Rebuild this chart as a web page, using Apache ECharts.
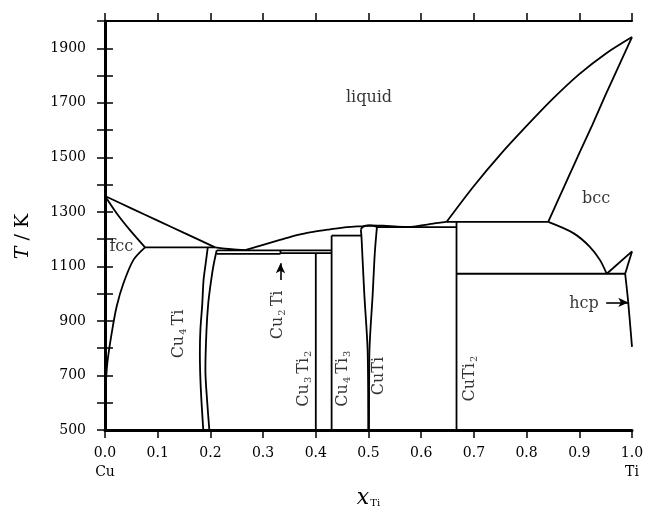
<!DOCTYPE html>
<html><head><meta charset="utf-8">
<script src="https://cdn.jsdelivr.net/npm/echarts/dist/echarts.min.js"></script>
<style>html,body{margin:0;padding:0;background:#fff}#c{width:645px;height:514px}</style>
</head><body><div id="c"></div>
<script>
// ---------- data (x_Ti, T/K) ----------
const cuLiquidus = [[0,1358],[0.05,1313],[0.10,1268],[0.15,1223],[0.209,1170]];
const fccSolidus = [[0,1358],[0.022,1295],[0.047,1234],[0.076,1170]];
const fccSolvus = [[0.076,1170],[0.054,1124],[0.035,1038],[0.022,952],[0.0127,855],[0.0044,745],[0.001,647],[0,570]];
const fccPeritectic = [[0.076,1170],[0.209,1170]];
const cu4TiLeft = [[0.195,1170],[0.191,1110],[0.187,1050],[0.1845,960],[0.181,867],[0.180,782],[0.1816,659],[0.1865,500]];
const cu4TiRight = [[0.212,1159],[0.206,1105],[0.2015,1050],[0.196,966],[0.1926,867],[0.1905,720],[0.1941,599],[0.198,500]];
const eutecticCu2Ti = [[0.212,1159],[0.430,1159]];
const eutectoidCu2Ti = [[0.212,1146],[0.333,1146]];
const peritectoidCu3Ti2 = [[0.333,1149],[0.430,1149]];
const cu2TiLine = [[0.333,1146],[0.333,1159]];
const cu3Ti2Line = [[0.400,1149],[0.400,500]];
const cu4Ti3Line = [[0.430,1213],[0.430,500]];
const cu4Ti3Top = [[0.430,1213],[0.4865,1213]];
const liquidusCuSide = [[0.209,1170],[0.24,1163],[0.266,1160]];
const liquidusMid = [[0.266,1160],[0.300,1179],[0.332,1197],[0.364,1215],[0.395,1227],[0.427,1236],[0.459,1244],[0.490,1248],[0.503,1250]];
const liquidusCuTi = [[0.503,1250],[0.528,1249],[0.555,1246],[0.579,1245],[0.600,1250],[0.623,1257],[0.648,1263]];
const liquidusTi = [[0.648,1263],[0.70,1395],[0.75,1510],[0.80,1615],[0.85,1715],[0.90,1805],[0.95,1880],[1,1941]];
const cuTiLeft = [[0.4855,1236],[0.4865,1213],[0.487,1197],[0.492,1000],[0.4985,782],[0.4995,500]];
const cuTiTop = [[0.4855,1236],[0.490,1246],[0.500,1250],[0.510,1249],[0.516,1244]];
const cuTiRight = [[0.516,1244],[0.512,1150],[0.508,1000],[0.5015,769],[0.501,500]];
const eutecticCuTi = [[0.516,1244],[0.667,1244]];
const cuTi2Line = [[0.667,1263],[0.667,500]];
const peritecticCuTi2 = [[0.648,1263],[0.841,1263]];
const bccSolidus = [[0.841,1263],[0.86,1345],[0.88,1430],[0.90,1515],[0.925,1620],[0.95,1730],[0.975,1835],[1,1941]];
const bccTransus = [[0.841,1263],[0.8887,1222],[0.920,1172],[0.939,1124],[0.952,1073]];
const eutectoidTi = [[0.667,1073],[0.987,1073]];
const bccHcpBoundary = [[0.952,1073],[1,1155]];
const hcpUpper = [[0.987,1073],[1,1155]];
const hcpSolvus = [[0.987,1073],[0.9924,977],[1,805]];

const boundaries = [cuLiquidus, fccSolidus, fccSolvus, fccPeritectic, cu4TiLeft, cu4TiRight,
  eutecticCu2Ti, eutectoidCu2Ti, peritectoidCu3Ti2, cu2TiLine, cu3Ti2Line, cu4Ti3Line, cu4Ti3Top,
  liquidusCuSide, liquidusMid, liquidusCuTi, liquidusTi, cuTiLeft, cuTiTop, cuTiRight, eutecticCuTi,
  cuTi2Line, peritecticCuTi2, bccSolidus, bccTransus, eutectoidTi, bccHcpBoundary, hcpUpper, hcpSolvus];

// phase labels
const labelText = ['liquid', 'fcc', 'Cu{s|4}Ti', 'Cu{s|2}Ti', 'Cu{s|3}Ti{s|2}', 'Cu{s|4}Ti{s|3}', 'CuTi', 'CuTi{s|2}', 'bcc', 'hcp'];
const labelX =    [0.501, 0.031, 0.140, 0.328, 0.378, 0.452, 0.520, 0.693, 0.932, 0.909];
const labelT =    [1718, 1170, 852, 922, 694, 694, 698, 694, 1347, 963];
const labelRot =  [0, 0, 90, 90, 90, 90, 90, 90, 0, 0];

// arrows: [start, end]
const arrowCu2Ti = [[0.333,1050],[0.333,1112]];
const arrowHcp = [[0.951,968],[0.993,968]];

// axis ticks
const xMin = 0, xMax = 1, xStep = 0.1;
const yMin = 500, yMax = 2000, yStep = 100, yLabelStep = 200;
const xEndNames = {0: 'Cu', 1: 'Ti'};

// ---------- chart ----------
const FONT = '"DejaVu Serif", "Liberation Serif", serif';
const TICK_FS = 14;
const chart = echarts.init(document.getElementById('c'), null, {renderer: 'canvas'});

const series = boundaries.map(d => ({
  type: 'line', data: d, showSymbol: false, symbol: 'none',
  smooth: d.length > 2 ? 0.3 : false,
  lineStyle: {color: '#000', width: 1.8}, silent: true, z: 3, clip: true
}));

[arrowCu2Ti, arrowHcp].forEach(a => {
  series.push({
    type: 'line', data: [], silent: true,
    markLine: {
      silent: true, symbol: ['none', 'arrow'], symbolSize: [7, 10],
      label: {show: false},
      lineStyle: {color: '#000', width: 1.6, type: 'solid'},
      data: [[{coord: a[0]}, {coord: a[1]}]]
    }
  });
});

series.push({
  type: 'scatter', symbolSize: 0, silent: true, z: 5,
  data: labelText.map((t, i) => ({
    value: [labelX[i], labelT[i]],
    label: {
      show: true, position: 'inside', rotate: labelRot[i], formatter: t,
      color: '#000',
      rich: {
        s: {fontFamily: FONT, fontSize: 10, padding: [9, 3, 0, 1], color: '#000'}
      },
      fontFamily: FONT, fontSize: 16
    }
  }))
});

const axisBase = {
  type: 'value', splitLine: {show: false},
  axisTick: {show: true, inside: false, length: 8, lineStyle: {color: '#000', width: 1.5}}
};

chart.setOption({
  backgroundColor: '#fff',
  animation: false,
  textStyle: {fontFamily: FONT, color: '#000'},
  grid: {left: 105, right: 13, top: 21, bottom: 84, containLabel: false, outerBoundsMode: 'none'},
  xAxis: [
    Object.assign({}, axisBase, {
      min: xMin, max: xMax, interval: xStep, position: 'bottom',
      axisLine: {lineStyle: {color: '#000', width: 3}},
      axisLabel: {
        fontFamily: FONT, fontSize: TICK_FS, color: '#000', margin: 14, lineHeight: 19,
        formatter: v => { const r = Math.round(v * 10) / 10; const s = r.toFixed(1); return xEndNames[r] !== undefined ? s + '\n' + xEndNames[r] : s; }
      },
      name: '{it|x}{sub|Ti}', nameLocation: 'middle', nameGap: 50,
      nameTextStyle: {
        rich: {
          it: {fontFamily: FONT, fontStyle: 'italic', fontSize: 22, color: '#000'},
          sub: {fontFamily: FONT, fontSize: 10, padding: [11, 0, 0, 1], color: '#000'}
        }
      }
    }),
    Object.assign({}, axisBase, {
      min: xMin, max: xMax, interval: xStep, position: 'top',
      axisLine: {lineStyle: {color: '#000', width: 2}},
      axisLabel: {show: false}
    })
  ],
  yAxis: [
    Object.assign({}, axisBase, {
      min: yMin, max: yMax, interval: yStep, position: 'left',
      axisLine: {lineStyle: {color: '#000', width: 2}},
      axisLabel: {
        fontFamily: FONT, fontSize: TICK_FS, color: '#000', margin: 19,
        formatter: v => ((v - yMin) % yLabelStep === 0 && v < yMax) ? String(v) : ''
      },
      name: '{it|T} / K', nameLocation: 'middle', nameGap: 72, nameRotate: 90,
      nameTextStyle: {
        fontFamily: FONT, fontSize: 19, color: '#000', padding: [0, 22, 0, 0],
        rich: {it: {fontFamily: FONT, fontStyle: 'italic', fontSize: 19, color: '#000'}}
      }
    }),
    Object.assign({}, axisBase, {
      min: yMin, max: yMax, interval: yStep, position: 'right',
      axisLine: {lineStyle: {color: '#000', width: 3}},
      axisLabel: {show: false}
    })
  ],
  series: series
});
</script>
</body></html>
